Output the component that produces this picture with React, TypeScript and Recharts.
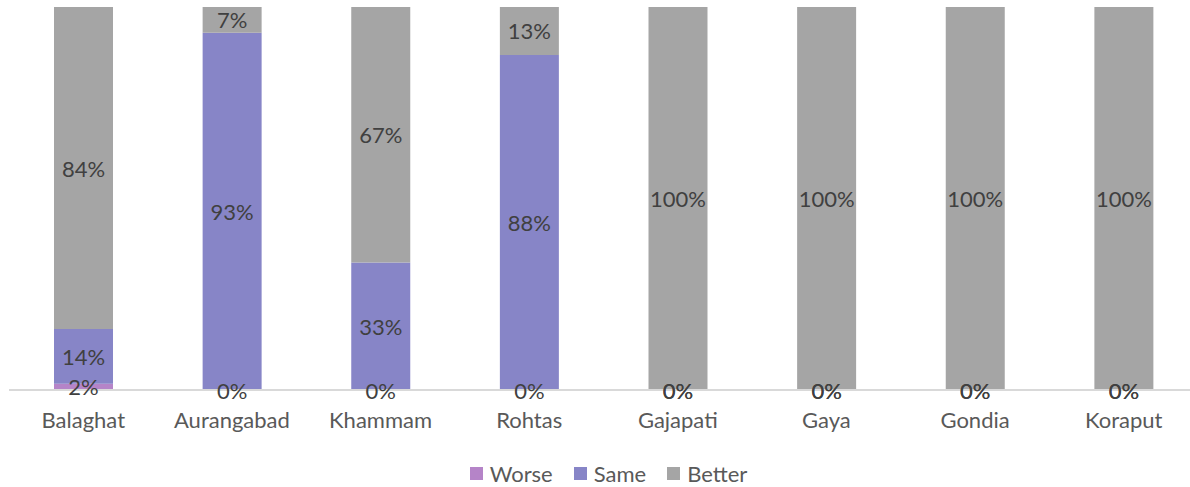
import React from "react";
import { BarChart, Bar, XAxis, YAxis, Legend, LabelList } from "recharts";

const districts = ["Balaghat", "Aurangabad", "Khammam", "Rohtas", "Gajapati", "Gaya", "Gondia", "Koraput"];
const worse = [1.6, 0, 0, 0, 0, 0, 0, 0];
const same = [14.3, 93.3, 33.3, 87.5, 0, 0, 0, 0];
const better = [84.1, 6.7, 66.7, 12.5, 100, 100, 100, 100];

const seriesKeys = ["Worse", "Same", "Better"];
const seriesColors = ["#B584C8", "#8785C7", "#A5A5A5"];
const seriesValues = [worse, same, better];

const data = districts.map((name, i) => ({
  name,
  Worse: worse[i],
  Same: same[i],
  Better: better[i],
}));

const FONT = "Lato, 'Liberation Sans', sans-serif";
const pct = (v: number) => `${Math.round(v)}%`;

// zero segments have no height, so the segment above them writes their "0%" at its bottom edge
const makeLabel = (k: number) => (props: any) => {
  const { x, y, width, height, index } = props;
  const v = seriesValues[k][index];
  if (!v) return null;
  const cx = Number(x) + Number(width) / 2;
  const out = [
    <text key="v" x={cx} y={Number(y) + Number(height) / 2} textAnchor="middle" dominantBaseline="central"
      fill="#404040" fontSize={22} fontFamily={FONT}>{pct(v)}</text>,
  ];
  for (let j = k - 1; j >= 0 && seriesValues[j][index] === 0; j--) {
    out.push(
      <text key={"z" + j} x={cx} y={Number(y) + Number(height)} textAnchor="middle" dominantBaseline="central"
        fill="#404040" fontSize={22} fontFamily={FONT}>0%</text>
    );
  }
  return <g>{out}</g>;
};

const LegendBox = () => (
  <div style={{ display: "flex", justifyContent: "center", alignItems: "center", fontFamily: FONT, fontSize: 22, color: "#595959", marginLeft: 27 }}>
    {seriesKeys.map((k, i) => (
      <div key={k} style={{ display: "flex", alignItems: "center", marginRight: i < 2 ? 21 : 0 }}>
        <span style={{ width: 13, height: 13, background: seriesColors[i], marginRight: 7, display: "inline-block" }} />
        <span>{k}</span>
      </div>
    ))}
  </div>
);

const App = () => {
  return (
    <div style={{ position: "absolute", left: 0, top: 0, width: 1190, height: 487, overflow: "hidden" }}>
      <BarChart
        width={1200}
        height={487}
        data={data}
        margin={{ top: 7, right: 2, left: 9, bottom: 40 }}
        barSize={59}
      >
        <XAxis
          dataKey="name"
          axisLine={{ stroke: "#D9D9D9", strokeWidth: 2 }}
          tickLine={false}
          tickSize={0}
          tickMargin={22}
          tick={{ fill: "#595959", fontSize: 22, fontFamily: FONT }}
        />
        <YAxis hide domain={[0, 100]} />
        <Legend content={<LegendBox />} wrapperStyle={{ top: 460, left: 0, width: 1190 }} />
        {seriesKeys.map((k, i) => (
          <Bar key={k} dataKey={k} stackId="a" fill={seriesColors[i]} isAnimationActive={false}>
            <LabelList dataKey={k} content={makeLabel(i)} />
          </Bar>
        ))}
      </BarChart>
    </div>
  );
};

export default App;
